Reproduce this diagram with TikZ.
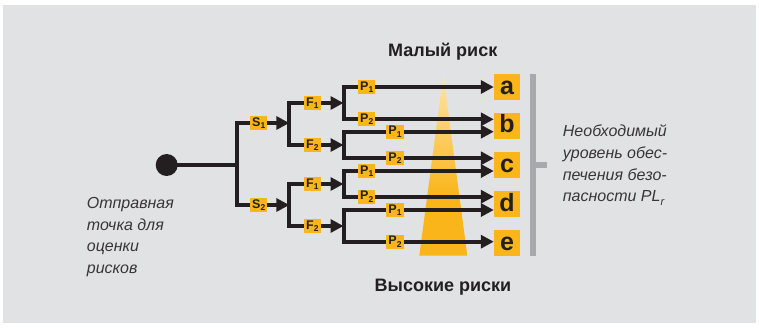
\documentclass[tikz,border=0pt]{standalone}
\usepackage{fontspec}
\setmainfont{Liberation Sans}
\usetikzlibrary{arrows.meta}
\definecolor{bg}{HTML}{E1E2E4}
\definecolor{ink}{HTML}{231F20}
\definecolor{amber}{HTML}{FAB51A}
\definecolor{pale}{HTML}{FFE6AE}
\definecolor{bar}{HTML}{A8A9AC}
\pgfdeclarelayer{fg}
\pgfsetlayers{main,fg}
\newcommand\lsub[1]{\raisebox{-2.6pt}{\fontsize{8.5}{8.5}\selectfont #1}}
\newcommand\tsub[1]{\raisebox{-3.5pt}{\fontsize{11}{11}\selectfont #1}}
\begin{document}
\begin{tikzpicture}[x=1pt,y=-1pt,
  ln/.style={draw=ink, line width=4pt, line join=miter},
  arr/.style={ln, -{Triangle[length=13pt,width=13pt]}},
  lab/.style={fill=amber, inner sep=0pt, minimum width=17.5pt, minimum height=14pt,
              font=\bfseries\fontsize{12.5}{12.5}\selectfont, text=ink},
  outc/.style={fill=amber, inner sep=0pt, minimum size=26pt, text height=14pt, text depth=0pt,
              font=\bfseries\fontsize{25}{25}\selectfont, text=ink},
  itx/.style={anchor=base west, inner sep=0pt, font=\itshape\fontsize{16}{16}\selectfont, text=ink!90},
  ttl/.style={anchor=base, inner sep=0pt, font=\bfseries\fontsize{18}{18}\selectfont, text=ink}]
\useasboundingbox (0,0) rectangle (759,327);
\fill[bg] (3,5) rectangle (756,323);

% triangle
\begin{scope}
  \clip (443.3,75) -- (467.3,255.7) -- (419.3,255.7) -- cycle;
  \shade[top color=pale, bottom color=amber] (418,74) rectangle (469,195);
  \fill[amber] (418,194.5) rectangle (469,257);
\end{scope}

% gray bracket
\fill[bar] (530,74) rectangle (536,256);
\fill[bar] (535,162) rectangle (547,168);

\begin{pgfonlayer}{fg}
\node[circle, fill=ink, minimum size=22pt, inner sep=0pt] (r0) at (166.7,165) {};
\node[lab] (S1) at (258.7,123) {S\lsub{1}};
\node[lab] (S2) at (258.7,205) {S\lsub{2}};
\node[lab] (F11) at (312.3,103) {F\lsub{1}};
\node[lab] (F12) at (312.3,145) {F\lsub{2}};
\node[lab] (F21) at (312.3,184) {F\lsub{1}};
\node[lab] (F22) at (312.3,226) {F\lsub{2}};
\node[lab] (P111) at (366.7,87) {P\lsub{1}};
\node[lab] (P112) at (366.7,119.3) {P\lsub{2}};
\node[lab] (P121) at (395,131.7) {P\lsub{1}};
\node[lab] (P122) at (395,158.3) {P\lsub{2}};
\node[lab] (P211) at (366.7,171) {P\lsub{1}};
\node[lab] (P212) at (366.7,196.7) {P\lsub{2}};
\node[lab] (P221) at (395,210) {P\lsub{1}};
\node[lab] (P222) at (395,241.7) {P\lsub{2}};
\node[outc] (a) at (507,87) {a};
\node[outc] (b) at (507,125.5) {b};
\node[outc] (c) at (507,165) {c};
\node[outc] (d) at (507,204) {d};
\node[outc] (e) at (507,243) {e};
\end{pgfonlayer}

\coordinate (j0) at (237,165);
\coordinate (j1) at (289.3,123);
\coordinate (j2) at (289.3,205);
\coordinate (j3) at (343.5,103);
\coordinate (j4) at (343.5,145);
\coordinate (j5) at (343.5,184);
\coordinate (j6) at (343.5,226);

\draw[ln] (r0.center) -- (j0);
\draw[ln] (S1.center) -| (j0) |- (S2.center);
\draw[arr] (S1.center) -- (j1);
\draw[arr] (S2.center) -- (j2);
\draw[ln] (F11.center) -| (j1) |- (F12.center);
\draw[ln] (F21.center) -| (j2) |- (F22.center);
\draw[arr] (F11.center) -- (j3);
\draw[arr] (F12.center) -- (j4);
\draw[arr] (F21.center) -- (j5);
\draw[arr] (F22.center) -- (j6);
\draw[ln] (P111.center) -| (j3) |- (P112.center);
\draw[ln] (P121.center) -| (j4) |- (P122.center);
\draw[ln] (P211.center) -| (j5) |- (P212.center);
\draw[ln] (P221.center) -| (j6) |- (P222.center);
\draw[arr] (P111.center) -- (a.west |- P111.center);
\draw[arr] (P112.center) -- (b.west |- P112.center);
\draw[arr] (P121.center) -- (b.west |- P121.center);
\draw[arr] (P122.center) -- (c.west |- P122.center);
\draw[arr] (P211.center) -- (c.west |- P211.center);
\draw[arr] (P212.center) -- (d.west |- P212.center);
\draw[arr] (P221.center) -- (d.west |- P221.center);
\draw[arr] (P222.center) -- (e.west |- P222.center);

% titles
\node[ttl] (lo) at (442.7,56.5) {Малый риск};
\node[ttl] (hi) at (443,291.7) {Высокие риски};

% right text
\node[itx] (r1) at (562.7,136.7) {Необходимый};
\node[itx] (r2) at (562.7,158.3) {уровень обес-};
\node[itx] (r3) at (562.7,180) {печения безо-};
\node[itx] (r4) at (562.7,201.7) {пасности PL\tsub{r}};

% left text
\node[itx] (l1) at (86.7,208.3) {Отправная};
\node[itx] (l2) at (86.7,230) {точка для};
\node[itx] (l3) at (86.7,251.7) {оценки};
\node[itx] (l4) at (86.7,273.3) {рисков};
\end{tikzpicture}
\end{document}
